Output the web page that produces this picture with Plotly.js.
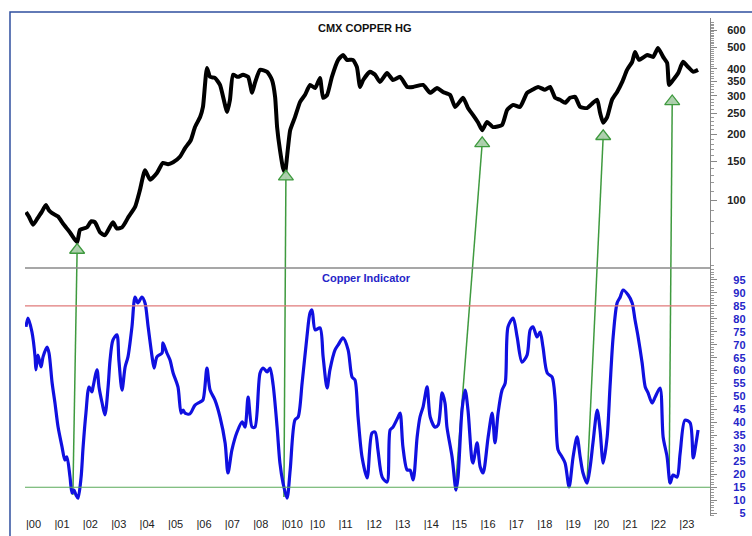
<!DOCTYPE html>
<html><head><meta charset="utf-8">
<script src="https://cdn.plot.ly/plotly-3.0.1.min.js"></script>
<style>html,body{margin:0;padding:0;background:#fff}#chart{width:752px;height:536px}</style>
</head><body><div id="chart"></div><script>
const priceYears=[2000.00,2000.10,2000.25,2000.42,2000.55,2000.70,2000.80,2000.92,2001.13,2001.30,2001.55,2001.80,2001.90,2002.15,2002.30,2002.43,2002.61,2002.78,2003.06,2003.20,2003.38,2003.50,2003.59,2003.84,2004.01,2004.19,2004.37,2004.61,2004.82,2005.00,2005.18,2005.42,2005.60,2005.80,2005.95,2006.13,2006.23,2006.37,2006.48,2006.65,2006.83,2007.08,2007.18,2007.29,2007.46,2007.64,2007.82,2007.96,2008.06,2008.24,2008.49,2008.66,2008.77,2008.84,2008.94,2009.05,2009.12,2009.19,2009.30,2009.47,2009.65,2009.82,2010.00,2010.18,2010.35,2010.46,2010.60,2010.77,2010.99,2011.16,2011.30,2011.51,2011.65,2011.76,2011.87,2012.11,2012.29,2012.46,2012.71,2012.92,2013.17,2013.42,2013.63,2013.98,2014.23,2014.47,2014.68,2014.93,2015.11,2015.39,2015.56,2015.74,2015.92,2016.06,2016.23,2016.44,2016.76,2016.94,2017.15,2017.39,2017.64,2017.82,2018.03,2018.27,2018.45,2018.63,2018.80,2018.98,2019.15,2019.33,2019.51,2019.75,2019.96,2020.11,2020.21,2020.32,2020.46,2020.63,2020.81,2020.99,2021.16,2021.34,2021.44,2021.58,2021.87,2022.08,2022.25,2022.43,2022.57,2022.64,2022.78,2022.96,2023.13,2023.31,2023.49,2023.66];
const priceValues=[88,84,77,83,88,95,90,87,84,78,71,64,73,75,80,79,71,69,79,74,75,79,83,93,111,137,124,133,148,146,149,158,173,188,216,240,267,403,367,363,337,253,288,375,367,375,367,310,344,395,387,355,297,216,170,140,134,158,209,240,282,303,337,326,363,294,303,367,439,462,439,439,407,330,355,387,375,348,382,355,367,330,330,337,310,326,313,303,267,294,264,245,226,209,228,216,221,259,273,267,310,320,330,320,330,294,288,279,294,297,267,264,279,288,251,226,240,288,313,348,395,430,477,439,462,453,498,453,425,337,355,382,430,407,387,395];
const indYears=[2000.00,2000.07,2000.21,2000.32,2000.35,2000.42,2000.53,2000.60,2000.74,2000.81,2000.92,2001.02,2001.13,2001.27,2001.37,2001.44,2001.55,2001.62,2001.69,2001.76,2001.83,2001.94,2002.01,2002.11,2002.22,2002.32,2002.36,2002.50,2002.57,2002.68,2002.78,2002.89,2002.96,2003.06,2003.20,2003.27,2003.38,2003.49,2003.59,2003.73,2003.84,2003.94,2004.08,2004.19,2004.30,2004.44,2004.51,2004.61,2004.79,2004.82,2004.96,2005.07,2005.18,2005.35,2005.46,2005.53,2005.60,2005.77,2005.95,2006.13,2006.23,2006.37,2006.48,2006.65,2006.83,2007.01,2007.11,2007.25,2007.43,2007.61,2007.71,2007.82,2007.96,2008.06,2008.24,2008.35,2008.49,2008.59,2008.70,2008.84,2008.94,2009.05,2009.19,2009.30,2009.47,2009.58,2009.72,2009.89,2010.00,2010.07,2010.18,2010.35,2010.46,2010.60,2010.70,2010.88,2010.99,2011.16,2011.34,2011.48,2011.58,2011.69,2011.83,2012.01,2012.18,2012.29,2012.39,2012.54,2012.71,2012.82,2012.92,2013.10,2013.17,2013.27,2013.42,2013.52,2013.63,2013.77,2013.87,2013.98,2014.12,2014.23,2014.40,2014.51,2014.65,2014.75,2014.82,2015.00,2015.14,2015.21,2015.35,2015.46,2015.56,2015.70,2015.74,2015.88,2015.99,2016.09,2016.27,2016.41,2016.51,2016.62,2016.76,2016.87,2016.97,2017.15,2017.29,2017.46,2017.64,2017.75,2017.85,2017.99,2018.10,2018.20,2018.35,2018.52,2018.63,2018.73,2018.87,2018.98,2019.12,2019.26,2019.40,2019.51,2019.61,2019.75,2019.86,2019.96,2020.11,2020.21,2020.32,2020.46,2020.56,2020.67,2020.81,2020.92,2021.02,2021.20,2021.34,2021.44,2021.55,2021.69,2021.80,2021.90,2022.04,2022.15,2022.32,2022.43,2022.57,2022.68,2022.78,2022.92,2023.03,2023.20,2023.38,2023.49,2023.59,2023.66];
const indValues=[76.9,80.3,74.9,65.3,60.3,66.0,61.4,65.3,69.1,66.8,55.2,47.5,38.2,30.5,25.5,26.7,18.9,12.8,13.9,12.0,10.8,18.9,30.5,43.6,53.7,51.8,53.7,60.3,53.7,47.5,42.9,53.7,64.1,71.8,73.8,64.1,52.5,61.4,65.3,76.9,88.4,86.1,88.4,86.1,76.9,65.3,61.0,65.3,66.8,70.7,66.8,64.1,59.1,53.7,43.6,44.8,43.6,43.3,46.7,47.9,48.7,61.0,52.5,48.7,42.1,32.1,20.5,29.4,36.3,40.2,38.2,49.8,38.2,38.2,59.1,61.0,59.5,61.0,54.5,38.2,24.3,16.6,10.8,21.6,41.0,42.1,55.2,73.0,82.3,83.4,75.7,76.5,65.3,53.3,60.3,68.0,69.9,72.6,68.0,57.5,56.4,42.1,26.7,18.6,35.9,36.3,29.4,18.9,17.0,37.1,38.2,42.1,43.6,30.5,21.6,21.6,17.8,34.4,42.1,46.0,53.7,42.1,38.2,39.0,51.4,47.5,38.2,26.7,13.9,18.9,44.8,52.5,44.8,25.5,24.3,32.1,22.8,20.5,34.4,43.6,32.1,43.6,52.5,55.2,76.9,80.3,73.0,63.3,66.0,75.7,76.9,73.0,74.9,69.1,59.1,57.5,48.7,29.4,26.7,24.3,15.1,26.7,34.4,26.7,20.5,16.6,22.8,32.1,44.8,37.1,24.3,34.4,53.7,73.0,86.1,88.4,91.1,89.2,86.1,79.6,73.0,63.0,53.7,51.4,47.5,49.8,53.3,34.4,26.7,16.6,19.7,18.9,28.2,40.9,39.8,26.3,32.1,37.1];

const yearTicks=[2000,2001,2002,2003,2004,2005,2006,2007,2008,2009,2010,2011,2012,2013,2014,2015,2016,2017,2018,2019,2020,2021,2022,2023];
const yearLabels=['|00','|01','|02','|03','|04','|05','|06','|07','|08','|010','|10','|11','|12','|13','|14','|15','|16','|17','|18','|19','|20','|21','|22','|23'];
const priceTicks=[100,150,200,250,300,350,400,500,600];
const indTicks=[5,10,15,20,25,30,35,40,45,50,55,60,65,70,75,80,85,90,95];
const overbought=85, oversold=15;

const arrowFromYears=[2001.65,2009.08,2015.11,2019.75,2022.64];
const arrowFromValues=[12.0,11.2,13.9,16.6,16.6];
const arrowToYears=[2001.80,2009.15,2016.06,2020.32,2022.75];
const arrowToPrices=[59,128,182,196,283];

const priceMinor=[50,60,70,80,90];
for(let v=110;v<=650;v+=10){ if(priceTicks.indexOf(v)<0) priceMinor.push(v); }
const indMinor=[];
for(let v=4;v<=99;v++){ if(indTicks.indexOf(v)<0) indMinor.push(v); }

const FONT='"Liberation Sans", Arial, sans-serif';
const fs='\u2007';
function pad(t){ const s=String(t); return (s.length<3? fs.repeat(3-s.length):'')+s; }

const data=[
 {x:priceYears,y:priceValues,xaxis:'x',yaxis:'y',type:'scatter',mode:'lines',line:{color:'#000',width:4,shape:'spline',smoothing:0.5},hoverinfo:'skip'},
 {x:indYears,y:indValues,xaxis:'x',yaxis:'y2',type:'scatter',mode:'lines',line:{color:'#1010e0',width:3.2,shape:'spline',smoothing:0.8},hoverinfo:'skip'},
 {x:arrowToYears,y:arrowToPrices,xaxis:'x',yaxis:'y',type:'scatter',mode:'markers',cliponaxis:false,
  marker:{symbol:'triangle-up',size:13,color:'rgba(170,205,170,0.95)',line:{color:'#3f9a3f',width:1.3}},hoverinfo:'skip'}
];

const layout={
 width:752,height:536,
 margin:{l:25,r:42,t:18,b:20},
 paper_bgcolor:'#fff',plot_bgcolor:'#fff',
 showlegend:false,
 font:{family:FONT,size:11,color:'#222'},
 xaxis:{domain:[0,1],anchor:'y2',range:[1999.965,2024.08],tickmode:'array',tickvals:yearTicks,ticktext:yearLabels,
  ticks:'',showgrid:false,zeroline:false,showline:false,ticklabelposition:'outside right',
  tickfont:{family:FONT,size:11,color:'#222'}},
 yaxis:{domain:[0.498,1],anchor:'x',side:'right',type:'log',range:[Math.log10(48.8),Math.log10(683)],
  tickmode:'array',tickvals:priceTicks,ticktext:priceTicks.map(pad),ticks:'outside',ticklen:6,tickcolor:'#888',tickwidth:1,
  minor:{tickmode:'array',tickvals:priceMinor,ticks:'outside',ticklen:3,tickcolor:'#999',tickwidth:1},
  showline:true,linecolor:'#888',linewidth:1,showgrid:false,zeroline:false,ticklabelstandoff:8,
  tickfont:{family:FONT,size:11,color:'#222',weight:'bold'}},
 yaxis2:{domain:[0,0.498],anchor:'x',side:'right',range:[3.9,99.6],
  tickmode:'array',tickvals:indTicks,ticktext:indTicks.map(pad),ticks:'outside',ticklen:6,tickcolor:'#888',tickwidth:1,
  minor:{tickmode:'array',tickvals:indMinor,ticks:'outside',ticklen:3,tickcolor:'#999',tickwidth:1},
  showline:true,linecolor:'#888',linewidth:1,showgrid:false,zeroline:false,ticklabelstandoff:8,
  tickfont:{family:FONT,size:11,color:'#2525c8',weight:'bold'}},
 shapes:[
  {type:'path',xref:'paper',yref:'paper',path:'M -0.0219 -0.05 L -0.0219 1.012 L 1.07 1.012',line:{color:'#2f4f9f',width:1.5}},
  {type:'line',xref:'paper',yref:'paper',x0:0,x1:1,y0:0.498,y1:0.498,line:{color:'#8a8a8a',width:1.5}},
  {type:'line',xref:'paper',yref:'y2',x0:0,x1:1,y0:overbought,y1:overbought,line:{color:'#e07a7a',width:1.2}},
  {type:'line',xref:'paper',yref:'y2',x0:0,x1:1,y0:oversold,y1:oversold,line:{color:'#5aaa5a',width:1.2}}
 ],
 annotations:[
  {text:'<b>CMX COPPER HG</b>',xref:'paper',yref:'paper',x:0.496,y:0.98,showarrow:false,xanchor:'center',yanchor:'middle',font:{family:FONT,size:11,color:'#111'}},
  {text:'<b>Copper Indicator</b>',xref:'paper',yref:'paper',x:0.499,y:0.478,showarrow:false,xanchor:'center',yanchor:'middle',font:{family:FONT,size:11,color:'#2525c8'}}
 ]
};

Plotly.newPlot('chart',data,layout,{staticPlot:true,displayModeBar:false}).then(function(gd){
 const fl=gd._fullLayout, sz=fl._size;
 function toPaper(axName,v){
  const ax=fl[axName];
  let px;
  if(ax && typeof ax.c2p==='function'){ px=ax._offset+ax.c2p(v); }
  else {
   const a=layout[axName]; const lin=a.type==='log'?Math.log10(v):v;
   const frac=(lin-a.range[0])/(a.range[1]-a.range[0]);
   return a.domain[0]+frac*(a.domain[1]-a.domain[0]);
  }
  return 1-(px-sz.t)/sz.h;
 }
 const shapes=layout.shapes.slice();
 for(let i=0;i<arrowFromYears.length;i++){
  shapes.push({type:'line',xref:'x',yref:'paper',layer:'below',
   x0:arrowFromYears[i],y0:toPaper('yaxis2',arrowFromValues[i]),
   x1:arrowToYears[i],y1:toPaper('yaxis',arrowToPrices[i]),
   line:{color:'#3f9a3f',width:1.5}});
 }
 return Plotly.relayout(gd,{shapes:shapes});
});
</script></body></html>
